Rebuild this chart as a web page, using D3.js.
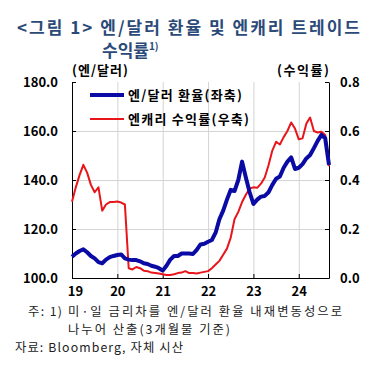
<!DOCTYPE html>
<meta charset="utf-8">
<head>
<script src="https://d3js.org/d3.v7.min.js"></script>
<style>
  body { margin: 0; background: #fff; }
  text { font-family: "Noto Sans CJK KR", "Noto Sans", sans-serif; }
</style>
</head>
<body>
<div id="my_dataviz"></div>
<script>

// monthly, Jan 2019 .. Sep 2024
var yenUsd = [
  108.7, 110.0, 111.0, 111.7, 110.5, 109.0, 108.0, 106.5, 106.0, 107.5, 108.5, 109.0,
  109.4, 109.6, 108.0, 107.5, 107.3, 107.3, 106.8, 106.0, 105.7, 105.0, 104.6, 104.0,
  103.0, 105.0, 107.5, 109.0, 109.0, 110.0, 110.0, 110.0, 109.8, 111.5, 113.7, 114.0,
  114.8, 115.5, 118.5, 124.0, 127.5, 132.0, 136.0, 135.5, 140.0, 147.5, 141.0, 135.0,
  130.2, 132.0, 133.2, 133.5, 135.0, 138.0, 140.5, 141.4, 145.0, 147.5, 149.2, 144.5,
  145.0, 146.5, 148.8, 150.2, 153.0, 156.0, 158.4, 157.0, 146.1
];
var carryReturn = [
  0.311, 0.370, 0.420, 0.462, 0.430, 0.380, 0.350, 0.370, 0.275, 0.300, 0.310, 0.310,
  0.312, 0.308, 0.300, 0.040, 0.035, 0.045, 0.040, 0.030, 0.028, 0.022, 0.020, 0.018,
  0.015, 0.012, 0.012, 0.015, 0.020, 0.022, 0.028, 0.020, 0.020, 0.018, 0.022, 0.025,
  0.028, 0.040, 0.055, 0.070, 0.095, 0.120, 0.165, 0.240, 0.270, 0.310, 0.340, 0.365,
  0.370, 0.368, 0.385, 0.410, 0.460, 0.520, 0.556, 0.545, 0.575, 0.600, 0.635, 0.610,
  0.566, 0.570, 0.630, 0.655, 0.600, 0.594, 0.597, 0.584, 0.457
];
var yearLabels = ["19", "20", "21", "22", "23", "24"];
var leftTicks = [100, 120, 140, 160, 180];
var rightTicks = [0, 0.2, 0.4, 0.6, 0.8];
var seriesNames = ["엔/달러 환율(좌축)", "엔캐리 수익률(우축)"];
var notes = [
  "미·일 금리차를 엔/달러 환율 내재변동성으로",
  "나누어 산출(3개월물 기준)"
];

var W = 383, H = 373;
var margin = {top: 82, right: 54, bottom: 95, left: 72},
    width = W - margin.left - margin.right,
    height = H - margin.top - margin.bottom;

var root = d3.select("#my_dataviz")
  .append("svg")
    .attr("width", W)
    .attr("height", H);

var svg = root.append("g")
    .attr("transform", "translate(" + margin.left + "," + margin.top + ")");

var x = d3.scaleLinear().domain([0, yenUsd.length - 1]).range([0, width]);
var y = d3.scaleLinear().domain([100, 180]).range([height, 0]);
var y2 = d3.scaleLinear().domain([0, 0.8]).range([height, 0]);
var yearTicks = yearLabels.map(function(d, i) { return i * 12; });

// Title
var title = root.append("g").style("fill", "#2b4a78").style("font-weight", "bold").style("font-size", "17px");
title.append("text").attr("x", 17).attr("y", 34)
  .attr("textLength", 343).attr("lengthAdjust", "spacing")
  .text("<그림 1> 엔/달러 환율 및 엔캐리 트레이드");
var t2 = title.append("text").attr("x", 102).attr("y", 57).text("수익률");
t2.append("tspan").attr("dy", -7).style("font-size", "10px").text("1)");

// gridlines
svg.append("g")
  .call(d3.axisBottom(x).tickValues(yearTicks.slice(1)).tickSize(height).tickFormat(""))
  .call(function(g) { g.select(".domain").remove(); g.selectAll("line").attr("stroke", "#d4d4d4"); });
svg.append("g")
  .call(d3.axisLeft(y).tickValues([120, 140, 160]).tickSize(-width).tickFormat(""))
  .call(function(g) { g.select(".domain").remove(); g.selectAll("line").attr("stroke", "#d4d4d4"); });

// axes
var axisFont = function(g) {
  g.selectAll("text").style("font-size", "13px").style("font-weight", "bold")
    .style("font-family", "'Noto Sans CJK KR', sans-serif").attr("fill", "#000");
  g.select(".domain").attr("stroke", "#000");
  g.selectAll("line").attr("stroke", "#000");
};
svg.append("g")
  .call(d3.axisLeft(y).tickValues(leftTicks).tickSize(-4).tickSizeOuter(0).tickPadding(14)
    .tickFormat(function(d) { return d.toFixed(1); }))
  .call(axisFont);
svg.append("g")
  .attr("transform", "translate(" + width + ",0)")
  .call(d3.axisRight(y2).tickValues(rightTicks).tickSize(-4).tickSizeOuter(0).tickPadding(11)
    .tickFormat(function(d) { return d.toFixed(1); }))
  .call(axisFont);
var xAxis = svg.append("g")
  .attr("transform", "translate(0," + height + ")")
  .call(d3.axisBottom(x).tickValues(yearTicks).tickSize(-4).tickSizeOuter(0).tickPadding(9)
    .tickFormat(function(d, i) { return yearLabels[i]; }))
  .call(axisFont);
xAxis.selectAll(".tick").filter(function(d) { return d === 0; }).select("text").attr("dx", 3);

// axis unit labels
svg.append("text").attr("x", 0).attr("y", -7)
  .attr("textLength", 56).attr("lengthAdjust", "spacing")
  .style("font-size", "13px").style("font-weight", "bold").text("(엔/달러)");
svg.append("text").attr("x", width - 52).attr("y", -7)
  .attr("textLength", 52).attr("lengthAdjust", "spacing")
  .style("font-size", "13px").style("font-weight", "bold").text("(수익률)");

// lines
svg.append("path")
  .datum(carryReturn)
  .attr("fill", "none")
  .attr("stroke", "#e8151b")
  .attr("stroke-width", 2)
  .attr("stroke-linejoin", "round")
  .attr("d", d3.line().x(function(d, i) { return x(i); }).y(function(d) { return y2(d); }));
svg.append("path")
  .datum(yenUsd)
  .attr("fill", "none")
  .attr("stroke", "#0a0aa5")
  .attr("stroke-width", 4)
  .attr("stroke-linejoin", "round")
  .attr("d", d3.line().x(function(d, i) { return x(i); }).y(function(d) { return y(d); }));

// legend
var legend = svg.append("g");
var legendLen = [114, 121];
[["#0a0aa5", 4], ["#e8151b", 2]].forEach(function(s, i) {
  var ly = 13 + i * 24;
  legend.append("line").attr("x1", 18).attr("x2", 52).attr("y1", ly).attr("y2", ly)
    .attr("stroke", s[0]).attr("stroke-width", s[1]);
  legend.append("text").attr("x", 56).attr("y", ly).attr("dy", "0.35em")
    .attr("textLength", legendLen[i]).attr("lengthAdjust", "spacing")
    .style("font-size", "13px").style("font-weight", "bold").text(seriesNames[i]);
});

// notes
var foot = root.append("g").style("font-size", "12.3px").style("fill", "#222");
foot.append("text").attr("x", 28).attr("y", 316)
  .attr("textLength", 34).attr("lengthAdjust", "spacing").text("주: 1)");
foot.append("text").attr("x", 68).attr("y", 316)
  .attr("textLength", 274).attr("lengthAdjust", "spacing").text(notes[0]);
foot.append("text").attr("x", 68).attr("y", 334)
  .attr("textLength", 162).attr("lengthAdjust", "spacing").text(notes[1]);
foot.append("text").attr("x", 15).attr("y", 352)
  .attr("textLength", 168).attr("lengthAdjust", "spacing").text("자료: Bloomberg, 자체 시산");

</script>
</body>
</html>
